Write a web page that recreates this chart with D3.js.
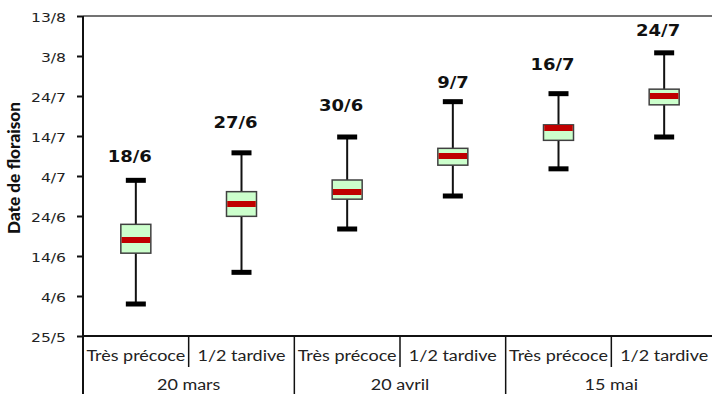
<!DOCTYPE html>
<html>
<head>
<meta charset="utf-8">
<script src="https://cdn.jsdelivr.net/npm/d3@7"></script>
<style>
  html, body { margin: 0; padding: 0; background: #fff; }
  svg { display: block; }
</style>
</head>
<body>
<svg id="chart" width="712" height="394"></svg>
<script>
// Flowering dates per sowing date and variety type
const categories = ["Très précoce", "1/2 tardive", "Très précoce", "1/2 tardive", "Très précoce", "1/2 tardive"];
const groups = ["20 mars", "20 avril", "15 mai"];
const whiskerLow  = ["2015-06-02 00", "2015-06-09 22", "2015-06-20 18", "2015-06-29 00", "2015-07-05 19", "2015-07-13 18"];
const quartile1   = ["2015-06-14 17", "2015-06-23 22", "2015-06-28 05", "2015-07-06 17", "2015-07-12 22", "2015-07-21 19"];
const medians     = ["2015-06-18 00", "2015-06-27 00", "2015-06-30 00", "2015-07-09 00", "2015-07-16 00", "2015-07-24 00"];
const quartile3   = ["2015-06-21 22", "2015-06-30 02", "2015-07-03 00", "2015-07-10 22", "2015-07-16 19", "2015-07-25 17"];
const whiskerHigh = ["2015-07-02 22", "2015-07-09 19", "2015-07-13 18", "2015-07-22 14", "2015-07-24 14", "2015-08-03 19"];
// date at which each median label sits
const labelAnchor = ["2015-07-07 14", "2015-07-15 22", "2015-07-20 06", "2015-07-25 22", "2015-07-30 12", "2015-08-08 02"];
const yTicks = ["2015-05-25", "2015-06-04", "2015-06-14", "2015-06-24", "2015-07-04", "2015-07-14", "2015-07-24", "2015-08-03", "2015-08-13"];

const parseT = d3.utcParse("%Y-%m-%d %H");
const parseD = d3.utcParse("%Y-%m-%d");
const fmt = d3.utcFormat("%-d/%-m");

const svg = d3.select("#chart");
const W = 712, H = 394;
const m = { left: 83, top: 16, axisY: 336, right: 717 };

const x = d3.scaleBand().domain(d3.range(categories.length)).range([m.left, m.right]).padding(0);
const y = d3.scaleUtc().domain([parseD(yTicks[0]), parseD(yTicks[yTicks.length - 1])]).range([m.axisY, m.top]);

const boxes = categories.map((c, i) => ({
  i, cat: c,
  lo: parseT(whiskerLow[i]), q1: parseT(quartile1[i]), med: parseT(medians[i]),
  q3: parseT(quartile3[i]), hi: parseT(whiskerHigh[i]), lab: parseT(labelAnchor[i])
}));

// horizontally widened text helper
function stretched(sel, sx) {
  sel.attr("transform", function () {
    const t = d3.select(this);
    return `translate(${t.attr("data-x")},${t.attr("data-y")}) scale(${sx},1)`;
  });
}

// top frame line
svg.append("line")
  .attr("x1", m.left).attr("x2", W).attr("y1", m.top).attr("y2", m.top)
  .attr("stroke", "#444").attr("stroke-width", 1.5);

// y axis
const yAxis = d3.axisLeft(y).tickValues(yTicks.map(parseD)).tickFormat(fmt).tickSize(6).tickPadding(0);
const gy = svg.append("g").attr("transform", `translate(${m.left},0)`).call(yAxis);
gy.select(".domain").remove();
gy.selectAll(".tick line").attr("stroke", "#111").attr("stroke-width", 2);
gy.selectAll(".tick text")
  .attr("x", null).attr("dy", null)
  .attr("data-x", -17).attr("data-y", 5)
  .attr("font-family", "'DejaVu Sans', sans-serif").attr("font-size", 13)
  .attr("fill", "#222").attr("text-anchor", "end")
  .call(stretched, 1.2);

svg.append("line")
  .attr("x1", m.left).attr("x2", m.left).attr("y1", m.top).attr("y2", H)
  .attr("stroke", "#111").attr("stroke-width", 2);

// x axis line
svg.append("line")
  .attr("x1", m.left).attr("x2", W).attr("y1", m.axisY).attr("y2", m.axisY)
  .attr("stroke", "#111").attr("stroke-width", 2);

// dividers between categories (short) and groups (long)
d3.range(1, categories.length).forEach(k => {
  const xx = x(k);
  const isGroup = k % 2 === 0;
  svg.append("line")
    .attr("x1", xx).attr("x2", xx).attr("y1", m.axisY).attr("y2", isGroup ? H : 367)
    .attr("stroke", "#111").attr("stroke-width", 1.5);
});

// category labels
svg.append("g").selectAll("text").data(categories).join("text")
  .attr("data-x", (d, i) => x(i) + x.bandwidth() / 2).attr("data-y", 361)
  .attr("text-anchor", "middle")
  .attr("font-family", "Lato, sans-serif").attr("font-size", 15.5)
  .attr("fill", "#222").text(d => d)
  .call(stretched, 1.16);

// group labels
svg.append("g").selectAll("text").data(groups).join("text")
  .attr("data-x", (d, g) => (x(2 * g) + x(2 * g + 1) + x.bandwidth()) / 2).attr("data-y", 390)
  .attr("text-anchor", "middle")
  .attr("font-family", "Lato, sans-serif").attr("font-size", 15.5)
  .attr("fill", "#222").text(d => d)
  .call(stretched, 1.16);

// y axis title
svg.append("text")
  .attr("transform", `translate(20,168) rotate(-90)`)
  .attr("text-anchor", "middle")
  .attr("font-family", "Lato, sans-serif").attr("font-weight", "900").attr("font-size", 16)
  .attr("textLength", 132).attr("lengthAdjust", "spacingAndGlyphs")
  .attr("fill", "#111").text("Date de floraison");

// box plots
const boxW = 30, capW = 20, capH = 5, medH = 6;
const gb = svg.append("g").selectAll("g").data(boxes).join("g");
const cx = d => x(d.i) + x.bandwidth() / 2;

gb.append("line")
  .attr("x1", cx).attr("x2", cx).attr("y1", d => y(d.hi)).attr("y2", d => y(d.lo))
  .attr("stroke", "#111").attr("stroke-width", 2);
gb.append("rect")
  .attr("x", d => cx(d) - capW / 2).attr("width", capW)
  .attr("y", d => y(d.hi) - capH / 2).attr("height", capH).attr("fill", "#000");
gb.append("rect")
  .attr("x", d => cx(d) - capW / 2).attr("width", capW)
  .attr("y", d => y(d.lo) - capH / 2).attr("height", capH).attr("fill", "#000");
gb.append("rect")
  .attr("x", d => cx(d) - boxW / 2).attr("width", boxW)
  .attr("y", d => y(d.q3)).attr("height", d => y(d.q1) - y(d.q3))
  .attr("fill", "#ccffcc").attr("stroke", "#404040").attr("stroke-width", 1.5);
gb.append("rect")
  .attr("x", d => cx(d) - boxW / 2 + 0.75).attr("width", boxW - 1.5)
  .attr("y", d => y(d.med) - medH / 2).attr("height", medH)
  .attr("fill", "#c00000");

// median labels
gb.append("text")
  .attr("data-x", d => cx(d) + 16).attr("data-y", d => y(d.lab))
  .attr("text-anchor", "end")
  .attr("font-family", "'DejaVu Sans', sans-serif").attr("font-weight", "bold").attr("font-size", 15)
  .attr("fill", "#111").text(d => fmt(d.med))
  .call(stretched, 1.2);
</script>
</body>
</html>
